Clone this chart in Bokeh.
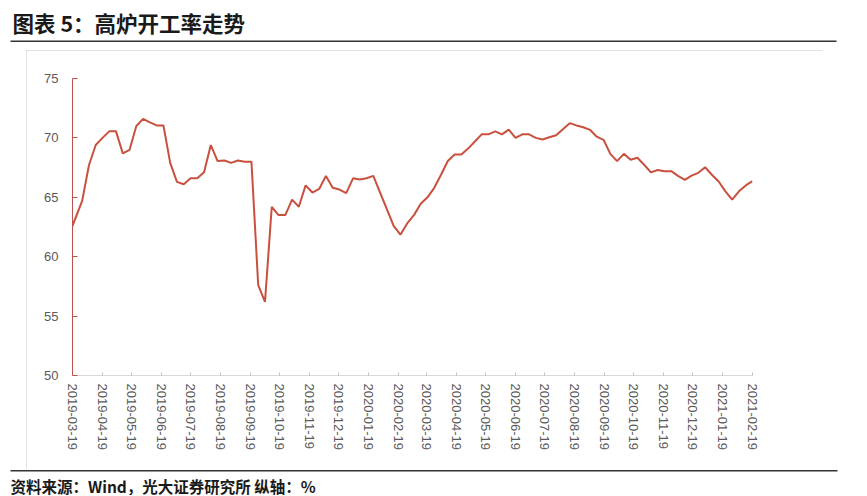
import pandas as pd
from bokeh.plotting import figure
from bokeh.models import Range1d, FixedTicker, Label, BoxAnnotation, ColumnDataSource, Spacer
from bokeh.layouts import column, row
from bokeh.embed import file_html
from bokeh.resources import INLINE
import math

# ---- data ----
first_date = ["2019-03-19"]
weekly_dates = [d.strftime("%Y-%m-%d") for d in pd.date_range("2019-03-29", "2021-02-19", freq="W-FRI")]
dates = first_date + weekly_dates

rate = [62.6,
        64.7, 67.7, 69.4, 70.0, 70.55, 70.55, 68.7, 69.0, 71.0, 71.6,
        71.3, 71.05, 71.05, 67.9, 66.3, 66.1, 66.6, 66.6, 67.1, 69.4,
        68.05, 68.1, 67.9, 68.1, 68.0, 68.0, 57.6, 56.2, 64.2, 63.5,
        63.5, 64.8, 64.2, 66.0, 65.4, 65.7, 66.8, 65.8, 65.65, 65.35,
        66.6, 66.5, 66.6, 66.8, 65.4, 64.0, 62.6, 61.85, 62.8, 63.5,
        64.45, 65.0, 65.8, 66.9, 68.05, 68.6, 68.6, 69.1, 69.7, 70.3,
        70.3, 70.55, 70.3, 70.7, 70.0, 70.3, 70.3, 70.0, 69.87, 70.06,
        70.23, 70.73, 71.24, 71.05, 70.9, 70.68, 70.1, 69.84, 68.66, 68.04,
        68.66, 68.16, 68.33, 67.74, 67.1, 67.3, 67.2, 67.2, 66.8, 66.47,
        66.83, 67.06, 67.53, 66.9, 66.33, 65.5, 64.8, 65.5, 66.0, 66.36]

tick_labels = ["2019-03-19", "2019-04-19", "2019-05-19", "2019-06-19", "2019-07-19",
               "2019-08-19", "2019-09-19", "2019-10-19", "2019-11-19", "2019-12-19",
               "2020-01-19", "2020-02-19", "2020-03-19", "2020-04-19", "2020-05-19",
               "2020-06-19", "2020-07-19", "2020-08-19", "2020-09-19", "2020-10-19",
               "2020-11-19", "2020-12-19", "2021-01-19", "2021-02-19"]
y_ticks = [50, 55, 60, 65, 70, 75]

title_text = "图表 5：高炉开工率走势"
source_text = "资料来源：Wind，光大证券研究所 纵轴：%"

# ---- helpers ----
def to_ms(s):
    return pd.Timestamp(s).value / 1e6

W = 845
RED = "#C0504D"
GRAY_TXT = "#595959"
NUM_FONT = "Liberation Sans"
CJK = "Noto Sans CJK SC"

def blank_fig(h):
    f = figure(width=W, height=h, output_backend="svg", toolbar_location=None,
               x_range=Range1d(0, W), y_range=Range1d(h, 0),
               min_border_left=0, min_border_right=0, min_border_top=0, min_border_bottom=0)
    f.axis.visible = False
    f.grid.visible = False
    f.outline_line_color = None
    f.background_fill_color = "white"
    f.border_fill_color = "white"
    return f

# ---- title strip ----
TH = 50
ft = blank_fig(TH)
ft.add_layout(Label(x=12, y=22, text=title_text, text_font=CJK, text_font_style="bold",
                    text_font_size="21.5px", text_color="#1a1a1a", text_baseline="middle"))
ft.add_layout(BoxAnnotation(left=10, right=836, top=40, bottom=41.5,
                            fill_color="#333333", fill_alpha=1, line_color=None))

# ---- main chart ----
BOX_L, BOX_R = 26, 823
MAIN_TOP, MAIN_BOT = TH, 469
FL, FR, FT, FB = 72, 752, 78, 375

src = ColumnDataSource(dict(x=pd.to_datetime(dates), y=rate))

p = figure(width=BOX_R - BOX_L, height=MAIN_BOT - MAIN_TOP, output_backend="svg",
           toolbar_location=None, x_axis_type="datetime",
           x_range=Range1d(to_ms(tick_labels[0]), to_ms(tick_labels[-1])),
           y_range=Range1d(50, 75),
           min_border_left=FL - BOX_L, min_border_right=BOX_R - FR,
           min_border_top=FT - MAIN_TOP, min_border_bottom=MAIN_BOT - FB)
p.outline_line_color = None
p.xgrid.visible = False
p.ygrid.visible = False
p.background_fill_color = "white"
p.border_fill_color = "white"
p.styles = {"outline": "1px solid #D9D9D9", "outline-offset": "-1px"}

p.line("x", "y", source=src, line_color="#C9503F", line_width=2)

tick_ms = [to_ms(t) for t in tick_labels]
xa = p.xaxis[0]
xa.ticker = FixedTicker(ticks=tick_ms)
xa.major_label_overrides = {t: lab for t, lab in zip(tick_ms, tick_labels)}
xa.major_label_orientation = -math.pi / 2
xa.axis_line_color = "#D9D9D9"
xa.major_tick_line_color = "#BFBFBF"
xa.major_tick_in = 3
xa.major_tick_out = 0
xa.minor_tick_line_color = None
xa.major_label_text_font = NUM_FONT
xa.major_label_text_font_size = "13px"
xa.major_label_text_color = GRAY_TXT
xa.major_label_standoff = 8

ya = p.yaxis[0]
ya.ticker = FixedTicker(ticks=y_ticks)
ya.axis_line_color = RED
ya.major_tick_line_color = RED
ya.major_tick_in = 5
ya.major_tick_out = 0
ya.minor_tick_line_color = None
ya.major_label_text_font = NUM_FONT
ya.major_label_text_font_size = "13px"
ya.major_label_text_color = GRAY_TXT
ya.major_label_standoff = 14

main_row = row(Spacer(width=BOX_L, height=MAIN_BOT - MAIN_TOP), p)

# ---- footer strip ----
FH = 26
ff = blank_fig(FH)
ff.add_layout(BoxAnnotation(left=10, right=837, top=0.5, bottom=2,
                            fill_color="#333333", fill_alpha=1, line_color=None))
ff.add_layout(Label(x=10, y=16, text=source_text, text_font=CJK, text_font_style="bold",
                    text_font_size="15.5px", text_color="#1a1a1a", text_baseline="middle"))

layout = column(ft, main_row, ff)

open("out.html", "w").write(file_html(layout, INLINE))
